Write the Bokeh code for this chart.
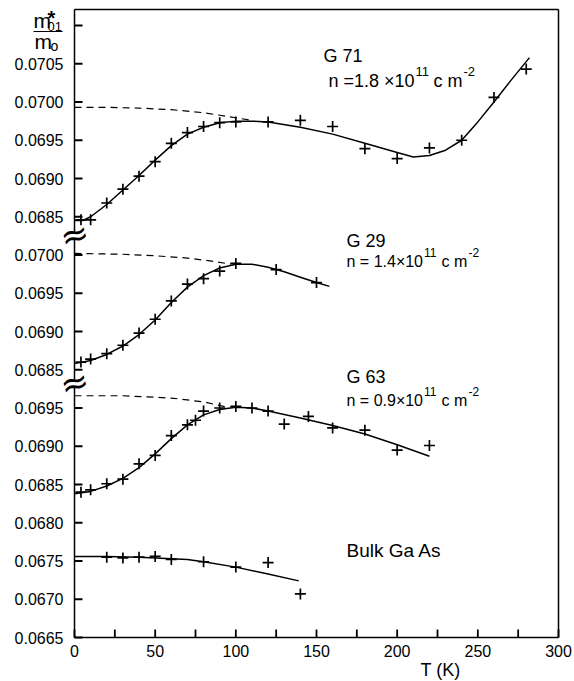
import numpy as np
from bokeh.plotting import figure
from bokeh.models import Label, FixedTicker, LinearAxis, Range1d
from bokeh.embed import file_html
from bokeh.resources import INLINE

# ---------------- data ----------------
# G 71, n = 1.8e11 cm^-2
g71_T = [4, 10, 20, 30, 40, 50, 60, 70, 80, 90, 100, 120, 140, 160, 180, 200, 220, 240, 260, 280]
g71_m = [0.06846, 0.06846, 0.06868, 0.06886, 0.06903, 0.06922, 0.06946, 0.06960, 0.06968, 0.06973,
         0.06974, 0.06974, 0.06976, 0.06968, 0.06939, 0.06926, 0.06940, 0.06950, 0.07006, 0.07043]
g71_fit_T = [0, 5, 10, 20, 30, 40, 50, 60, 70, 80, 90, 100, 110, 120, 140, 160, 180, 200, 210, 220,
             230, 240, 250, 260, 270, 282]
g71_fit_m = [0.06845, 0.06845, 0.06850, 0.06866, 0.06885, 0.06904, 0.06924, 0.06943, 0.06958, 0.06967,
             0.06973, 0.06975, 0.06975, 0.06974, 0.06967, 0.06958, 0.06946, 0.06934, 0.06928, 0.06930,
             0.06937, 0.06950, 0.06974, 0.07000, 0.07027, 0.07058]
g71_dash_T = [0, 20, 40, 60, 80, 95, 110]
g71_dash_m = [0.06993, 0.06993, 0.06992, 0.06990, 0.06986, 0.06981, 0.06976]

# G 29, n = 1.4e11 cm^-2
g29_T = [4, 10, 20, 30, 40, 50, 60, 70, 80, 90, 100, 125, 150]
g29_m = [0.06860, 0.06864, 0.06871, 0.06882, 0.06898, 0.06916, 0.06940, 0.06962, 0.06969, 0.06979,
         0.06989, 0.06981, 0.06964]
g29_fit_T = [0, 10, 20, 30, 40, 50, 60, 70, 80, 90, 100, 110, 120, 130, 140, 150, 158]
g29_fit_m = [0.06858, 0.06862, 0.06870, 0.06881, 0.06896, 0.06915, 0.06938, 0.06958, 0.06973, 0.06983,
             0.06988, 0.06988, 0.06984, 0.06978, 0.06971, 0.06964, 0.06959]
g29_dash_T = [0, 30, 50, 70, 85, 97]
g29_dash_m = [0.07002, 0.07001, 0.06999, 0.06996, 0.06992, 0.06988]

# G 63, n = 0.9e11 cm^-2
g63_T = [4, 10, 20, 30, 40, 50, 60, 70, 75, 80, 90, 100, 110, 120, 130, 145, 160, 180, 200, 220]
g63_m = [0.06840, 0.06843, 0.06851, 0.06857, 0.06877, 0.06888, 0.06914, 0.06928, 0.06934, 0.06946,
         0.06950, 0.06952, 0.06950, 0.06946, 0.06929, 0.06939, 0.06924, 0.06921, 0.06895, 0.06901]
g63_fit_T = [0, 10, 20, 30, 40, 50, 60, 70, 80, 90, 100, 110, 120, 140, 160, 180, 200, 220]
g63_fit_m = [0.06838, 0.06841, 0.06848, 0.06858, 0.06872, 0.06890, 0.06910, 0.06928, 0.06941, 0.06948,
             0.06951, 0.06950, 0.06946, 0.06937, 0.06927, 0.06916, 0.06902, 0.06887]
g63_dash_T = [0, 30, 60, 80, 95]
g63_dash_m = [0.06966, 0.06966, 0.06963, 0.06958, 0.06951]

# Bulk GaAs
bulk_T = [20, 30, 40, 50, 60, 80, 100, 120, 140]
bulk_m = [0.06755, 0.06754, 0.06755, 0.06756, 0.06752, 0.06749, 0.06742, 0.06748, 0.06707]
bulk_fit_T = [0, 20, 40, 60, 70, 80, 100, 120, 139]
bulk_fit_m = [0.06756, 0.06756, 0.06755, 0.06753, 0.06752, 0.06749, 0.06742, 0.06733, 0.06724]

# tick labels of the three stacked (broken) axis segments
x_ticks = [0, 50, 100, 150, 200, 250, 300]
x_minor = [25, 75, 125, 175, 225, 275]
ytick_bot = ["0.0665", "0.0670", "0.0675", "0.0680", "0.0685", "0.0690", "0.0695"]
ytick_mid = ["0.0685", "0.0690", "0.0695", "0.0700"]
ytick_top = ["0.0685", "0.0690", "0.0695", "0.0700", "0.0705", "0.0710"]
ytick_top_shown = ["0.0685", "0.0690", "0.0695", "0.0700", "0.0705", ""]

# ---------------- layout ----------------
W, H = 574, 681
AX_L, AX_R, AX_T, AX_B = 74, 558, 9.3, 637   # pixel position of the drawn box
X_MIN, X_MAX = 0, 300
Y0 = 665.0          # virtual axis units = value * 1e4 + segment offset
Y_PX = 7.65         # pixels per virtual unit
X_PX = (AX_R - AX_L) / (X_MAX - X_MIN)
OFF = {"top": 35.0, "mid": 15.0, "bot": 0.0}
Y_TOP = Y0 + (AX_B - AX_T) / Y_PX
TICK = 8
LABEL_SHIFT = 7


def v(vals, seg):
    return np.round(np.asarray(vals, dtype=float) * 1e4 + OFF[seg], 6)


FONT = "Liberation Sans"

# the frame fills the whole canvas; the axes are pinned inside it (fixed_location)
p = figure(width=W, height=H,
           x_range=Range1d(X_MIN - AX_L / X_PX, X_MIN + (W - AX_L) / X_PX),
           y_range=Range1d(Y0 - (H - AX_B) / Y_PX, Y0 + AX_B / Y_PX),
           output_backend="svg", toolbar_location=None,
           min_border=0, min_border_left=0, min_border_right=0, min_border_top=0, min_border_bottom=0)
p.outline_line_color = None
p.xgrid.visible = False
p.ygrid.visible = False

xa = p.xaxis[0]
xa.fixed_location = Y0
xa.bounds = (X_MIN, X_MAX)
xa.ticker = FixedTicker(ticks=x_ticks, minor_ticks=[])
xa.major_tick_in = 0
xa.major_tick_out = 0
xa.minor_tick_in = 0
xa.minor_tick_out = 0
xa.axis_line_width = 1.5
xa.major_label_text_font = FONT
xa.major_label_text_font_size = "16px"
xa.major_label_standoff = 7
xa.major_label_text_color = "black"

ytick_pos = [float(t) for t in
             list(v([float(s) for s in ytick_bot], "bot")) +
             list(v([float(s) for s in ytick_mid], "mid")) +
             list(v([float(s) for s in ytick_top], "top"))]
ytick_txt = ytick_bot + ytick_mid + ytick_top_shown
ya = p.yaxis[0]
ya.fixed_location = X_MIN
ya.bounds = (Y0, Y_TOP)
ya.ticker = FixedTicker(ticks=ytick_pos, minor_ticks=[])
ya.major_label_overrides = {t: s for t, s in zip(ytick_pos, ytick_txt)}
ya.major_tick_in = 0
ya.major_tick_out = 0
ya.minor_tick_in = 0
ya.minor_tick_out = 0
ya.axis_line_width = 1.5
ya.major_label_text_font = FONT
ya.major_label_text_font_size = "16px"
ya.major_label_standoff = 11
ya.major_label_text_color = "black"

p.add_layout(LinearAxis(fixed_location=X_MAX, bounds=(Y0, Y_TOP), ticker=FixedTicker(ticks=[]),
                        axis_line_width=1.5, major_tick_out=0, major_tick_in=0, minor_tick_out=0,
                        minor_tick_in=0, major_label_standoff=0), "right")
p.add_layout(LinearAxis(fixed_location=Y_TOP, bounds=(X_MIN, X_MAX), ticker=FixedTicker(ticks=[]),
                        axis_line_width=1.5, major_tick_out=0, major_tick_in=0, minor_tick_out=0,
                        minor_tick_in=0, major_label_standoff=0), "above")

# inward tick marks, drawn from the tick arrays
xt_all = x_ticks + x_minor
p.segment(x0=xt_all, y0=[Y0] * len(xt_all), x1=xt_all, y1=[Y0 + TICK / Y_PX] * len(xt_all),
          line_color="black", line_width=1.8)
p.segment(x0=[X_MIN] * len(ytick_pos), y0=ytick_pos, x1=[X_MIN + TICK / X_PX] * len(ytick_pos),
          y1=ytick_pos, line_color="black", line_width=1.8)

# ---------------- curves & points ----------------
series = [
    (g71_T, g71_m, g71_fit_T, g71_fit_m, g71_dash_T, g71_dash_m, "top"),
    (g29_T, g29_m, g29_fit_T, g29_fit_m, g29_dash_T, g29_dash_m, "mid"),
    (g63_T, g63_m, g63_fit_T, g63_fit_m, g63_dash_T, g63_dash_m, "bot"),
    (bulk_T, bulk_m, bulk_fit_T, bulk_fit_m, None, None, "bot"),
]
for T, m, fT, fm, dT, dm, seg in series:
    if dT is not None:
        p.line(dT, v(dm, seg), line_color="black", line_width=1.2, line_dash="7 5")
    p.line(fT, v(fm, seg), line_color="black", line_width=1.5, line_join="round")
    p.scatter(T, v(m, seg), marker="cross", size=11, line_color="black", line_width=1.7)


# ---------------- texts (screen units; frame == canvas) ----------------
def lab(px, py, text, size, font=FONT, style="normal", align="left", baseline="alphabetic",
        angle=0.0, color="black", level="annotation", shift=LABEL_SHIFT):
    p.add_layout(Label(x=px, y=H - py + shift, x_units="screen", y_units="screen",
                       text=text, text_font=font,
                       text_font_size=f"{size}px", text_font_style=style, text_align=align,
                       text_baseline=baseline, angle=angle, text_color=color, level=level))


# y-axis quantity  m*_01 / m_o
lab(33, 27, "m", 21)
lab(47, 24.5, "*", 20, style="bold")
lab(47, 33, "01", 13)
lab(33, 36.5, "——", 14.5)
lab(34, 48, "m", 21)
lab(50, 52.5, "o", 14)

# sample annotations
lab(323, 62, "G 71", 18)
lab(328, 87, "n =1.8 ×10", 18)
lab(415, 78, "11", 13)
lab(433, 87, "c m", 18)
lab(463, 78, "-2", 13)

lab(346, 247, "G 29", 18)
lab(346, 268, "n = 1.4×10", 16)
lab(423.5, 259, "11", 12)
lab(441, 268, "c m", 16)
lab(468, 259, "-2", 12)

lab(346, 383, "G 63", 18)
lab(346, 406.5, "n = 0.9×10", 16)
lab(423.5, 397.5, "11", 12)
lab(441, 406.5, "c m", 16)
lab(468, 397.5, "-2", 12)

lab(346, 557, "Bulk Ga As", 19)
lab(420, 676, "T (K)", 18)

# axis break marks
for by in (234, 382):
    lab(AX_L, by, "■", 9, font="DejaVu Sans", align="center", baseline="middle", angle=0.26,
        color="white", level="overlay", shift=0)
    lab(AX_L, by, "≈", 34, font="DejaVu Sans", align="center", baseline="middle", angle=0.26,
        level="overlay", shift=0)

open("out.html", "w").write(file_html(p, INLINE))
